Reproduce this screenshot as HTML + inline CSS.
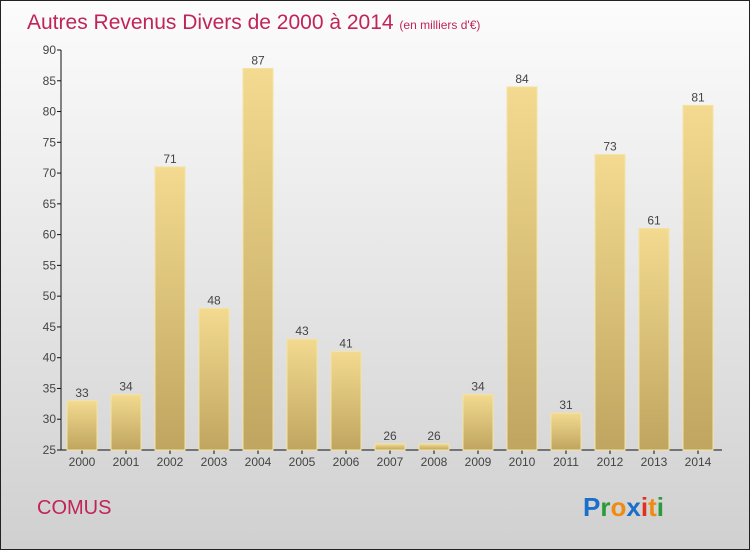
<!DOCTYPE html>
<html><head><meta charset="utf-8"><style>
body{margin:0;width:750px;height:550px;overflow:hidden;font-family:"Liberation Sans",sans-serif}
</style></head><body>
<svg id="chart" width="750" height="550" xmlns="http://www.w3.org/2000/svg">
<defs>
<linearGradient id="bg" x1="0" y1="0" x2="0" y2="1"><stop offset="0" stop-color="#fcfcfc"/><stop offset="1" stop-color="#d0d0d0"/></linearGradient>
<linearGradient id="bar" x1="0" y1="0" x2="0" y2="1"><stop offset="0" stop-color="#f3da90"/><stop offset="1" stop-color="#bfa55f"/></linearGradient>
</defs>
<rect x="0.5" y="0.5" width="749" height="549" fill="url(#bg)" stroke="#222" stroke-width="1"/>
<text x="27" y="29" font-size="21" fill="#c0245a">Autres Revenus Divers de 2000 à 2014 <tspan font-size="12">(en milliers d'€)</tspan></text>
<text x="37" y="514" font-size="20" fill="#c0245a">COMUS</text>
<g font-size="26" font-weight="bold" font-family="'Liberation Sans',sans-serif">
<text x="583" y="516"><tspan fill="#1a6fc8">P</tspan><tspan fill="#2a9a3a">r</tspan><tspan fill="#f08a10">o</tspan><tspan fill="#1a6fc8">x</tspan><tspan fill="#e03020">i</tspan><tspan fill="#f08a10">t</tspan><tspan fill="#2a9a3a">i</tspan></text>
</g>
<g id="axes"></g><g id="bars"></g>
</svg>
<script>
const years=["2000","2001","2002","2003","2004","2005","2006","2007","2008","2009","2010","2011","2012","2013","2014"];
const values=[33,34,71,48,87,43,41,26,26,34,84,31,73,61,81];
const ticks=[25,30,35,40,45,50,55,60,65,70,75,80,85,90];
const NS="http://www.w3.org/2000/svg";
const yMin=25,yMax=90,plotTop=50,plotBot=450;
function yScale(v){return plotBot-(v-yMin)/(yMax-yMin)*(plotBot-plotTop);}
function xScale(i){return 82+i*44;}
function mk(tag,attrs,parent,txt){const e=document.createElementNS(NS,tag);for(const k in attrs)e.setAttribute(k,attrs[k]);if(txt!==undefined)e.textContent=txt;parent.appendChild(e);return e;}
const ax=document.getElementById('axes'),bg=document.getElementById('bars');
let l=mk('line',{x1:61,y1:plotTop,x2:61,y2:plotBot,stroke:'#111'},ax);


l=mk('line',{x1:61,y1:plotBot,x2:722,y2:plotBot,stroke:'#111'},ax);


ticks.forEach(t=>{const y=yScale(t);
 const tk=mk('line',{x1:57,y1:y,x2:61,y2:y,stroke:'#111'},ax);
 
 
 const tl=mk('text',{x:56,y:y+4,'text-anchor':'end','font-size':12,fill:'#444'},ax,t);
 
 
});
years.forEach((yr,i)=>{const x=xScale(i),v=values[i],y=yScale(v);
 const r=mk('rect',{x:x-15,y:y,width:30,height:plotBot-y,fill:'url(#bar)',stroke:'#f5e3a0','stroke-width':1},bg);
 
 
 const vl=mk('text',{x:x,y:y-4,'text-anchor':'middle','font-size':12,fill:'#444'},bg,v);
 
 
 const tk=mk('line',{x1:x,y1:plotBot,x2:x,y2:plotBot+4,stroke:'#111'},ax);
 
 
 const xl=mk('text',{x:x,y:plotBot+16,'text-anchor':'middle','font-size':12,fill:'#444'},ax,yr);
 
 
});
</script>
</body></html>
